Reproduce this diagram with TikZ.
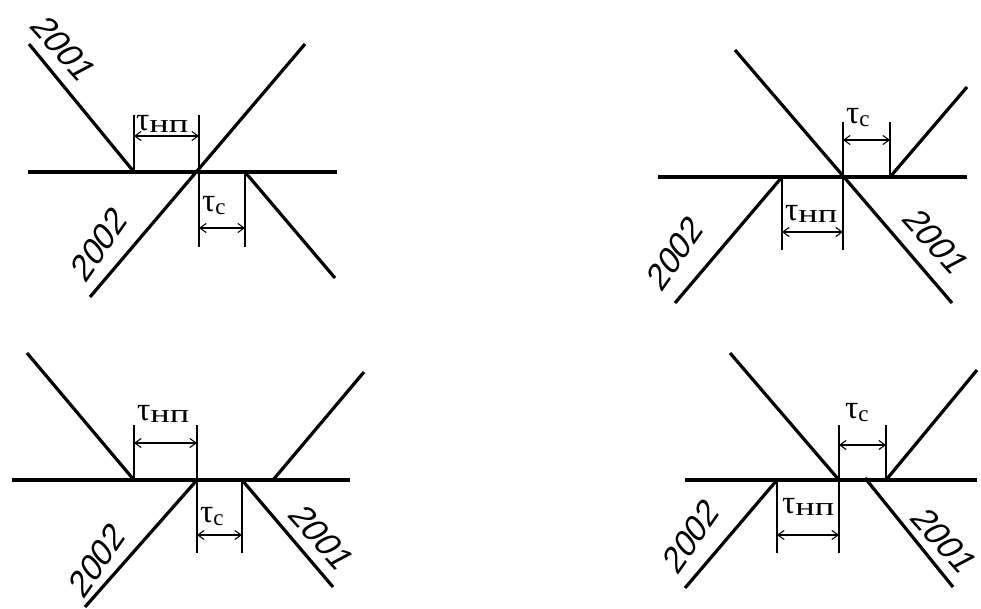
\documentclass[tikz,border=0pt]{standalone}
\usepackage{fontspec}
\usepackage{graphicx}
\setmainfont{Liberation Serif}
\newfontfamily\numfont{Liberation Sans}
\usetikzlibrary{arrows.meta}
\tikzset{
  main/.style={line width=3.2pt, line cap=butt},
  tick/.style={line width=1.5pt},
  dim/.style={line width=1.1pt, {Straight Barb[length=2.2mm,width=3.2mm]}-{Straight Barb[length=2.2mm,width=3.2mm]}},
  lbl/.style={inner sep=0pt, anchor=base west},
  num/.style={inner sep=0pt, font=\numfont\fontsize{34}{34}\selectfont},
  numdown/.style={num, rotate=-48, xslant=0.25},
  numup/.style={num, rotate=55, xslant=0.25},
}
\newcommand{\tnp}{{\fontsize{33}{34}\selectfont τ}{\fontsize{26}{27}\selectfont\raisebox{-2pt}{\scalebox{1.4}[1]{нп}}}}
\newcommand{\tcc}{{\fontsize{33}{34}\selectfont τ}{\fontsize{23}{24}\selectfont\raisebox{-3pt}{с}}}
\begin{document}
\begin{tikzpicture}[x=1pt,y=-1pt]
\useasboundingbox (0,0) rectangle (981,608);
% ---------- Panel 1 ----------
\coordinate (a1) at (28,172); \coordinate (a2) at (337,172);
\coordinate (b1) at (29,44);  \coordinate (b2) at (134,172);
\coordinate (c1) at (90,297); \coordinate (c2) at (305,44);
\coordinate (d1) at (245,172); \coordinate (d2) at (335,278);
\draw[main] (a1) -- (a2);
\draw[main] (b1) -- (b2);
\draw[main] (c1) -- (c2);
\draw[main] (d1) -- (d2);
\coordinate (t1a) at (134,115); \coordinate (t1b) at (134,172);
\coordinate (t2a) at (199,115); \coordinate (t2b) at (199,247);
\coordinate (t3a) at (245,172); \coordinate (t3b) at (245,247);
\draw[tick] (t1a) -- (t1b);
\draw[tick] (t2a) -- (t2b);
\draw[tick] (t3a) -- (t3b);
\coordinate (r1a) at (134,136); \coordinate (r1b) at (199,136);
\coordinate (r2a) at (199,228); \coordinate (r2b) at (245,228);
\draw[dim] (r1a) -- (r1b);
\draw[dim] (r2a) -- (r2b);
\node[lbl] (l1) at (136,130) {\tnp};
\node[lbl] (l2) at (202,211) {\tcc};
\node[numdown] (n1) at (64,49) {2001};
\node[numup] (n2) at (99,244) {2002};
% ---------- Panel 2 ----------
\coordinate (e1) at (658,177); \coordinate (e2) at (967,177);
\coordinate (f1) at (735,50);  \coordinate (f2) at (952,303);
\coordinate (g1) at (675,303); \coordinate (g2) at (782,177);
\coordinate (h1) at (890,177); \coordinate (h2) at (967,87);
\draw[main] (e1) -- (e2);
\draw[main] (f1) -- (f2);
\draw[main] (g1) -- (g2);
\draw[main] (h1) -- (h2);
\coordinate (u1a) at (843,122); \coordinate (u1b) at (843,250);
\coordinate (u2a) at (890,122); \coordinate (u2b) at (890,177);
\coordinate (u3a) at (782,177); \coordinate (u3b) at (782,250);
\draw[tick] (u1a) -- (u1b);
\draw[tick] (u2a) -- (u2b);
\draw[tick] (u3a) -- (u3b);
\coordinate (s1a) at (843,140); \coordinate (s1b) at (890,140);
\coordinate (s2a) at (782,232); \coordinate (s2b) at (843,232);
\draw[dim] (s1a) -- (s1b);
\draw[dim] (s2a) -- (s2b);
\node[lbl] (l3) at (846,123) {\tcc};
\node[lbl] (l4) at (785,220) {\tnp};
\node[numup] (n3) at (675,253) {2002};
\node[numdown] (n4) at (936,242) {2001};
% ---------- Panel 3 ----------
\coordinate (i1) at (12,480);  \coordinate (i2) at (350,480);
\coordinate (j1) at (27,353);  \coordinate (j2) at (134,480);
\coordinate (k1) at (85,607);  \coordinate (k2) at (197,480);
\coordinate (m1) at (242,480); \coordinate (m2) at (333,587);
\coordinate (o1) at (273,480); \coordinate (o2) at (364,372);
\draw[main] (i1) -- (i2);
\draw[main] (j1) -- (j2);
\draw[main] (k1) -- (k2);
\draw[main] (m1) -- (m2);
\draw[main] (o1) -- (o2);
\coordinate (v1a) at (134,425); \coordinate (v1b) at (134,480);
\coordinate (v2a) at (197,425); \coordinate (v2b) at (197,553);
\coordinate (v3a) at (242,480); \coordinate (v3b) at (242,553);
\draw[tick] (v1a) -- (v1b);
\draw[tick] (v2a) -- (v2b);
\draw[tick] (v3a) -- (v3b);
\coordinate (p1a) at (134,443); \coordinate (p1b) at (197,443);
\coordinate (p2a) at (197,535); \coordinate (p2b) at (242,535);
\draw[dim] (p1a) -- (p1b);
\draw[dim] (p2a) -- (p2b);
\node[lbl] (l5) at (137,420) {\tnp};
\node[lbl] (l6) at (200,522) {\tcc};
\node[numup] (n5) at (97,560) {2002};
\node[numdown] (n6) at (322,538) {2001};
% ---------- Panel 4 ----------
\coordinate (w1) at (685,480); \coordinate (w2) at (977,480);
\coordinate (x1) at (730,353); \coordinate (x2) at (839,480);
\coordinate (y1) at (685,588); \coordinate (y2) at (777,480);
\coordinate (z1) at (865,478); \coordinate (z2) at (953,587);
\coordinate (q1) at (886,480); \coordinate (q2) at (977,370);
\draw[main] (w1) -- (w2);
\draw[main] (x1) -- (x2);
\draw[main] (y1) -- (y2);
\draw[main] (z1) -- (z2);
\draw[main] (q1) -- (q2);
\coordinate (g1a) at (839,425); \coordinate (g1b) at (839,553);
\coordinate (g2a) at (886,425); \coordinate (g2b) at (886,480);
\coordinate (g3a) at (777,480); \coordinate (g3b) at (777,553);
\draw[tick] (g1a) -- (g1b);
\draw[tick] (g2a) -- (g2b);
\draw[tick] (g3a) -- (g3b);
\coordinate (k1a) at (839,445); \coordinate (k1b) at (886,445);
\coordinate (k2a) at (777,535); \coordinate (k2b) at (839,535);
\draw[dim] (k1a) -- (k1b);
\draw[dim] (k2a) -- (k2b);
\node[lbl] (l7) at (845,418) {\tcc};
\node[lbl] (l8) at (782,513) {\tnp};
\node[numup] (n7) at (691,536) {2002};
\node[numdown] (n8) at (944,541) {2001};
\end{tikzpicture}
\end{document}
